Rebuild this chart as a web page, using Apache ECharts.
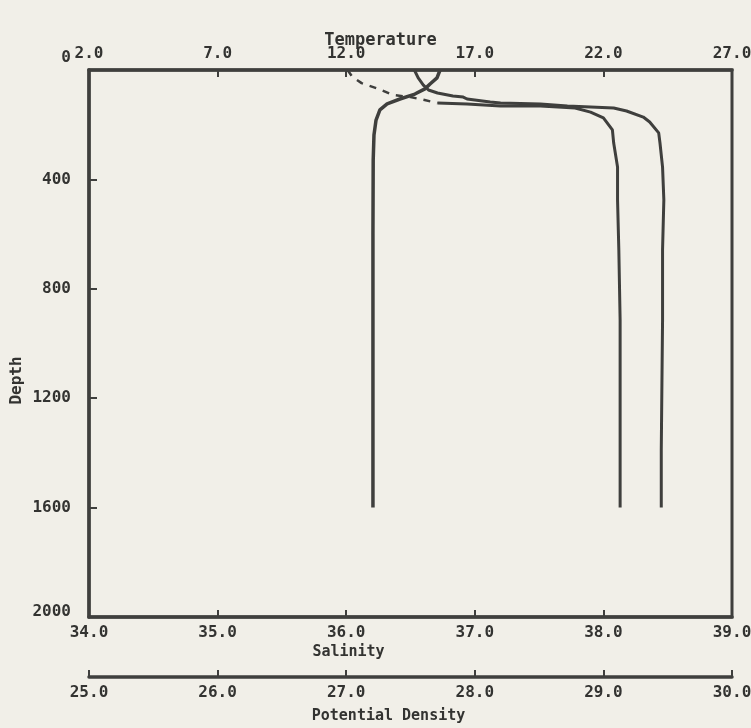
<!DOCTYPE html>
<html>
<head>
<meta charset="utf-8">
<script src="https://cdn.jsdelivr.net/npm/echarts@6/dist/echarts.min.js"></script>
<style>
  html, body { margin: 0; padding: 0; background: #f1efe8; }
  #chart { width: 751px; height: 728px; }
</style>
</head>
<body>
<div id="chart"></div>
<script>
// ---- Data ----
const tempDepth = [0, 29, 51, 69, 88, 106, 124, 146, 183, 238, 329, 600, 1000, 1400, 1600];
const tempValue = [15.65, 15.53, 15.26, 15.06, 14.67, 14.09, 13.59, 13.31, 13.16, 13.08, 13.05, 13.04, 13.04, 13.04, 13.04];

const salDepth = [0, 29, 55, 73, 84, 95, 99, 106, 117, 121, 124, 132, 139, 150, 172, 190, 230, 267, 355, 475, 658, 914, 1390, 1600];
const salValue = [36.53, 36.56, 36.60, 36.64, 36.71, 36.83, 36.91, 36.94, 37.12, 37.20, 37.51, 37.72, 38.08, 38.18, 38.31, 38.36, 38.43, 38.44, 38.46, 38.47, 38.46, 38.46, 38.45, 38.45];

const densUpperDepth = [0, 26, 48, 69, 91, 99, 110, 121];
const densUpperValue = [27.01, 27.05, 27.12, 27.25, 27.36, 27.50, 27.61, 27.71];
const densDepth = [121, 124, 132, 132, 139, 154, 175, 219, 267, 355, 475, 658, 914, 1600];
const densValue = [27.71, 27.94, 28.20, 28.51, 28.78, 28.90, 29.00, 29.07, 29.08, 29.11, 29.11, 29.12, 29.13, 29.13];

const depthTicks = [0, 400, 800, 1200, 1600, 2000];
const tempTicks = [2, 7, 12, 17, 22, 27];
const salTicks = [34, 35, 36, 37, 38, 39];
const densTicks = [25, 26, 27, 28, 29, 30];

// ---- Styling ----
const ink = '#3f3f3d';
const txt = '#333331';
const mono = 'DejaVu Sans Mono';
const lblStyle = { color: txt, fontFamily: mono, fontWeight: 'bold', fontSize: 16 };

function pairs(vals, deps) { return vals.map((v, i) => [v, deps[i]]); }

function xAxisBase(ticks, extra) {
  return Object.assign({
    type: 'value',
    min: ticks[0],
    max: ticks[ticks.length - 1],
    interval: ticks[1] - ticks[0],
    axisLine: { show: true, onZero: false, lineStyle: { color: ink, width: 3.5 } },
    axisTick: { show: true, inside: true, length: 7, lineStyle: { color: ink, width: 2 } },
    axisLabel: Object.assign({ margin: 8, formatter: v => v.toFixed(1) }, lblStyle),
    splitLine: { show: false },
    nameLocation: 'middle',
    nameMoveOverlap: false
  }, extra);
}

const chart = echarts.init(document.getElementById('chart'), null, { renderer: 'canvas' });
chart.setOption({
  backgroundColor: '#f1efe8',
  animation: false,
  grid: {
    left: 89, right: 19, top: 70, bottom: 111,
    outerBoundsMode: 'none', containLabel: false,
    show: true, borderColor: ink, borderWidth: 3, backgroundColor: 'transparent'
  },
  xAxis: [
    xAxisBase(tempTicks, {
      position: 'top',
      name: 'Temperature',
      nameGap: 21,
      nameTextStyle: { color: txt, fontFamily: mono, fontWeight: 'bold', fontSize: 17, padding: [0, 60, 0, 0] }
    }),
    xAxisBase(salTicks, {
      position: 'bottom',
      name: 'Salinity',
      nameGap: 28,
      nameTextStyle: { color: txt, fontFamily: mono, fontWeight: 'bold', fontSize: 15, padding: [0, 124, 0, 0] }
    }),
    xAxisBase(densTicks, {
      position: 'bottom',
      offset: 60,
      name: 'Potential Density',
      nameGap: 32,
      nameTextStyle: { color: txt, fontFamily: mono, fontWeight: 'bold', fontSize: 15, padding: [0, 44, 0, 0] }
    })
  ],
  yAxis: {
    type: 'value',
    inverse: true,
    min: depthTicks[0],
    max: depthTicks[depthTicks.length - 1],
    interval: depthTicks[1] - depthTicks[0],
    name: 'Depth',
    nameLocation: 'middle',
    nameGap: 64,
    nameMoveOverlap: false,
    nameTextStyle: { color: txt, fontFamily: mono, fontWeight: 'bold', fontSize: 16, padding: [0, 74, 0, 0] },
    axisLine: { show: true, lineStyle: { color: ink, width: 3.5 } },
    axisTick: { show: true, inside: true, length: 8, lineStyle: { color: ink, width: 2 } },
    axisLabel: Object.assign({
      margin: 18,
      formatter: v => v === 0 ? '{up|0}' : (v === 2000 ? '{up2|2000}' : String(v)),
      rich: {
        up: Object.assign({ padding: [0, 0, 24, 0] }, lblStyle),
        up2: Object.assign({ padding: [0, 0, 10, 0] }, lblStyle)
      }
    }, lblStyle),
    splitLine: { show: false }
  },
  series: [
    {
      name: 'Temperature', type: 'line', xAxisIndex: 0, yAxisIndex: 0,
      data: pairs(tempValue, tempDepth), showSymbol: false,
      lineStyle: { color: ink, width: 3.5 }
    },
    {
      name: 'Salinity', type: 'line', xAxisIndex: 1, yAxisIndex: 0,
      data: pairs(salValue, salDepth), showSymbol: false,
      lineStyle: { color: ink, width: 3 }
    },
    {
      name: 'Potential Density (upper)', type: 'line', xAxisIndex: 2, yAxisIndex: 0,
      data: pairs(densUpperValue, densUpperDepth), showSymbol: false,
      lineStyle: { color: ink, width: 2.5, type: [7, 7] }
    },
    {
      name: 'Potential Density', type: 'line', xAxisIndex: 2, yAxisIndex: 0,
      data: pairs(densValue, densDepth), showSymbol: false,
      lineStyle: { color: ink, width: 3 }
    }
  ]
});
</script>
</body>
</html>
